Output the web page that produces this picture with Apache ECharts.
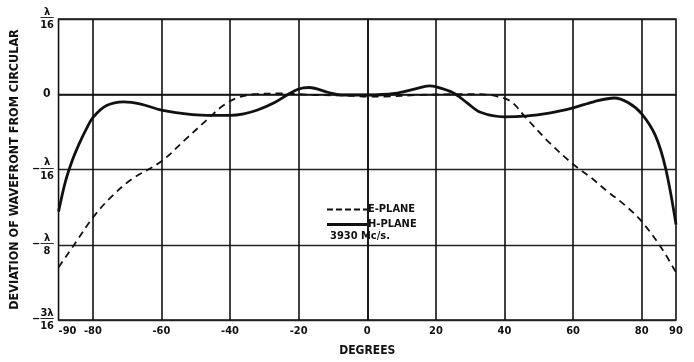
<!DOCTYPE html>
<html>
<head>
<meta charset="utf-8">
<script src="https://cdn.jsdelivr.net/npm/echarts@6/dist/echarts.min.js"></script>
<style>
html,body{margin:0;padding:0;background:#fff;}
#c{width:694px;height:362px;}
</style>
</head>
<body>
<div id="c"></div>
<script>
// Deviation in units of lambda/16
var eAngles = [-90,-85,-80,-75,-69,-60,-53,-47,-42,-38,-33,-25,-15,-5,0,5,15,25,33,38,42,46,53,60,65,70,75,80,86,90];
var eValues = [-2.30,-1.97,-1.64,-1.38,-1.14,-0.89,-0.60,-0.35,-0.15,-0.05,0,0.01,-0.01,-0.02,-0.03,-0.03,-0.01,0,0,-0.03,-0.10,-0.30,-0.64,-0.93,-1.10,-1.29,-1.47,-1.69,-2.06,-2.37];
var hAngles = [-90,-88,-86,-84,-82,-80,-76,-71,-66,-60,-51,-45,-40,-36,-32,-27,-23,-20,-17,-11,-7,0,8,14,18,20,25,29,33,40,46,53,60,66,72,76,80,84,87,90];
var hValues = [-1.56,-1.16,-0.88,-0.66,-0.47,-0.31,-0.15,-0.10,-0.13,-0.21,-0.27,-0.28,-0.28,-0.26,-0.21,-0.11,0,0.07,0.09,0.02,-0.01,-0.01,0.01,0.07,0.11,0.10,0.02,-0.11,-0.24,-0.30,-0.29,-0.25,-0.18,-0.10,-0.05,-0.11,-0.26,-0.55,-0.99,-1.73];
var xTickLabels = [-90,-80,-60,-40,-20,0,20,40,60,80,90];
var xGridValues = [-80,-60,-40,-20,0,20,40,60,80];
var yTickLabels = {"1":["","λ","16"],"0":null,"-1":["−","λ","16"],"-2":["−","λ","8"],"-3":["−","3λ","16"]};
var seriesNames = ["E-PLANE","H-PLANE"];
var noteText = "3930 Mc/s.";

var FONT = "'DejaVu Sans Condensed','DejaVu Sans',sans-serif";
function pairs(a,b){return a.map(function(x,i){return [x,b[i]];});}
var dashIcon = 'path://M0,0h6v2h-6z M9,0h6v2h-6z M18,0h6v2h-6z M27,0h6v2h-6z M36,0h4v2h-4z';
var solidIcon = 'path://M0,0h40v3h-40z';

var chart = echarts.init(document.getElementById('c'), null, {renderer:'canvas'});
chart.setOption({
  backgroundColor:'#fff',
  animation:false,
  textStyle:{fontFamily:FONT, color:'#111', fontWeight:'bold'},
  grid:{left:54,right:18,top:19,bottom:39,show:true,borderColor:'#111',borderWidth:1.6,backgroundColor:'transparent'},
  legend:{
    orient:'vertical', left:322, top:199, itemGap:4, itemWidth:40, itemHeight:3,
    data:[{name:seriesNames[0],icon:dashIcon},{name:seriesNames[1],icon:solidIcon}],
    selectedMode:false,
    itemStyle:{color:'#111',borderWidth:0},
    textStyle:{fontFamily:FONT,fontWeight:'bold',fontSize:11,color:'#111',padding:[0,0,0,-4]}
  },
  graphic:[{type:'text',left:330,top:231,style:{text:noteText,font:"bold 11px "+FONT,fill:'#111'}}],
  xAxis:{
    type:'value', min:-90, max:90, interval:10,
    name:'DEGREES', nameLocation:'middle', nameGap:25,
    nameTextStyle:{fontFamily:FONT,fontWeight:'bold',fontSize:12,color:'#111'},
    axisLine:{show:true,lineStyle:{color:'#111',width:1.6}},
    axisTick:{show:false},
    splitLine:{show:false},
    axisLabel:{
      margin:6, fontFamily:FONT, fontWeight:'bold', fontSize:11, color:'#111', showMinLabel:true, showMaxLabel:true,
      formatter:function(v){
        if(xTickLabels.indexOf(v)<0) return '';
        var s = v<0 ? '-'+Math.abs(v) : String(v);
        return v===xTickLabels[0] ? '{p|'+s+'}' : s;
      },
      rich:{p:{fontFamily:FONT,fontWeight:'bold',fontSize:11,color:'#111',padding:[0,0,0,18]}}
    }
  },
  yAxis:{
    type:'value', min:-3, max:1, interval:1,
    name:'DEVIATION OF WAVEFRONT FROM CIRCULAR', nameLocation:'middle', nameGap:37, nameRotate:90,
    nameTextStyle:{fontFamily:FONT,fontWeight:'bold',fontSize:12.5,color:'#111'},
    axisLine:{show:true,lineStyle:{color:'#111',width:1.6}},
    axisTick:{show:false},
    splitLine:{show:true,lineStyle:{color:'#222',width:1.4}},
    axisLabel:{
      margin:4, color:'#111',
      formatter:function(v){
        var t = yTickLabels[String(v)];
        if(!t) return '{z|0}';
        var s = t[0] ? '{m|'+t[0]+'}' : '';
        var sp = t[0] ? '{s| }' : '';
        return sp+'{n|'+t[1]+'}\n'+s+'{b|──}\n'+sp+'{d|'+t[2]+'}';
      },
      rich:{
        z:{fontFamily:FONT,fontWeight:'bold',fontSize:12,color:'#111',padding:[0,4,0,0]},
        n:{fontFamily:FONT,fontWeight:'bold',fontSize:11,width:15,align:'center',lineHeight:10,color:'#111'},
        b:{fontFamily:'DejaVu Sans',fontSize:11,width:15,align:'center',lineHeight:3,color:'#111'},
        d:{fontFamily:FONT,fontWeight:'bold',fontSize:11,width:15,align:'center',lineHeight:11,color:'#111'},
        m:{fontFamily:FONT,fontWeight:'bold',fontSize:11,width:7,lineHeight:3,color:'#111'},
        s:{width:7,lineHeight:9,fontSize:10}
      }
    }
  },
  series:[
    {
      name:seriesNames[0], type:'line', smooth:0.35, showSymbol:false, symbol:'none',
      data:pairs(eAngles,eValues),
      lineStyle:{color:'#111',width:1.8,type:[7,5]},
      itemStyle:{color:'#111'},
      markLine:{
        silent:true, symbol:'none', label:{show:false},
        lineStyle:{color:'#111',width:1.6,type:'solid'},
        data:xGridValues.map(function(v){return {xAxis:v};})
      },
      z:3
    },
    {
      name:seriesNames[1], type:'line', smooth:0.35, showSymbol:false, symbol:'none',
      data:pairs(hAngles,hValues),
      lineStyle:{color:'#111',width:2.8,type:'solid'},
      itemStyle:{color:'#111'},
      z:4
    }
  ]
});
</script>
</body>
</html>
